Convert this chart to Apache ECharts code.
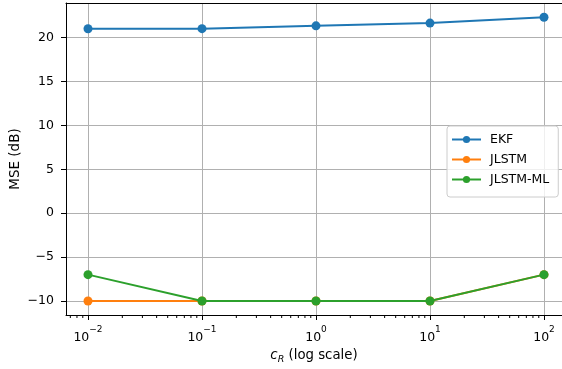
<!DOCTYPE html>
<html>
<head>
<meta charset="utf-8">
<script src="https://cdn.jsdelivr.net/npm/echarts@6/dist/echarts.min.js"></script>
<style>html,body{margin:0;padding:0;background:#fff}#c{width:562px;height:369px}</style>
</head>
<body>
<div id="c"></div>
<script>
var cR = [0.01, 0.1, 1, 10, 100];
var ekf = [21.02, 21.03, 21.35, 21.66, 22.33];
var jlstm = [-10, -10, -10, -10, -7];
var jlstmML = [-7, -10, -10, -10, -7];
var yTicks = [-10, -5, 0, 5, 10, 15, 20];
var seriesNames = ['EKF', 'JLSTM', 'JLSTM-ML'];
var colors = ['#1f77b4', '#ff7f0e', '#2ca02c'];

var FONT = 'DejaVu Sans';
var xMin = Math.pow(10, -2.193), xMax = Math.pow(10, 2.158);
var yMin = -11.6, yMax = 23.95;

// minor tick positions of the log axis (axis decoration)
var minor = [];
for (var k = -3; k <= 2; k++) {
  for (var m = 2; m <= 9; m++) {
    var v = m * Math.pow(10, k);
    if (v > xMin && v < xMax) minor.push(v);
  }
}

function pair(ys) { return cR.map(function (x, i) { return [x, ys[i]]; }); }

var chart = echarts.init(document.getElementById('c'), null, {renderer: 'canvas'});
var lineSeries = [ekf, jlstm, jlstmML].map(function (ys, i) {
  return {
    name: seriesNames[i], type: 'line', data: pair(ys),
    symbol: 'circle', symbolSize: 9, showSymbol: true,
    lineStyle: {width: 2, color: colors[i]},
    itemStyle: {color: colors[i]},
    z: 3 + i, animation: false, emphasis: {disabled: true}
  };
});

var option = {
  animation: false,
  textStyle: {fontFamily: FONT},
  grid: {left: 66, top: 3, right: 0, bottom: 54, containLabel: false, outerBoundsMode: 'none'},
  xAxis: [{
    type: 'log', logBase: 10, min: xMin, max: xMax,
    axisLine: {show: true, onZero: false, lineStyle: {color: '#000', width: 1}},
    axisTick: {show: true, length: 5, lineStyle: {color: '#000'}},
    splitLine: {show: true, lineStyle: {color: '#b0b0b0', width: 1}},
    axisLabel: {
      showMinLabel: false, showMaxLabel: false, margin: 10,
      color: '#000', fontFamily: FONT, fontSize: 12.5,
      formatter: function (v) {
        var e = Math.round(Math.log10(v));
        if (Math.abs(Math.log10(v) - e) > 1e-6) return '';
        return '{b|10}{s|' + (e < 0 ? '\u2212' + (-e) : e) + '}';
      },
      rich: {
        b: {fontSize: 12.5, fontFamily: FONT, color: '#000', verticalAlign: 'bottom', padding: [6, 0, 0, 0]},
        s: {fontSize: 9, fontFamily: FONT, color: '#000', verticalAlign: 'top'}
      }
    },
    name: '{i|c}{r|R}{t| (log scale)}',
    nameLocation: 'middle', nameGap: 34, nameMoveOverlap: false,
    nameTextStyle: {
      rich: {
        i: {fontSize: 13.3, fontStyle: 'italic', fontFamily: FONT, color: '#000', verticalAlign: 'bottom'},
        r: {fontSize: 9.5, fontStyle: 'italic', fontFamily: FONT, color: '#000', verticalAlign: 'bottom', padding: [0, 0, -3, 0]},
        t: {fontSize: 13.3, fontFamily: FONT, color: '#000', verticalAlign: 'bottom'}
      }
    }
  }, {
    type: 'log', logBase: 10, min: xMin, max: xMax, position: 'top',
    axisLine: {show: true, onZero: false, lineStyle: {color: '#000', width: 1}},
    axisTick: {show: false}, axisLabel: {show: false}, splitLine: {show: false}
  }],
  yAxis: {
    type: 'value', min: yMin, max: yMax, interval: 5,
    axisLine: {show: true, lineStyle: {color: '#000', width: 1}},
    axisLabel: {
      margin: 12,
      color: '#000', fontFamily: FONT, fontSize: 12.5,
      customValues: yTicks,
      formatter: function (v) { return v < 0 ? '\u2212' + (-v) : String(v); }
    },
    axisTick: {show: true, length: 5, lineStyle: {color: '#000'}, customValues: yTicks},
    splitLine: {show: true, lineStyle: {color: '#b0b0b0', width: 1}},
    name: 'MSE (dB)', nameLocation: 'middle', nameGap: 44, nameMoveOverlap: false,
    nameTextStyle: {fontSize: 13.5, fontFamily: FONT, color: '#000'}
  },
  legend: {
    data: seriesNames, orient: 'vertical', left: 447, top: 126,
    itemWidth: 29, itemHeight: 9, itemGap: 7,
    padding: [7, 9, 11, 4],
    backgroundColor: 'rgba(255,255,255,0.8)', borderColor: '#cccccc', borderWidth: 1, borderRadius: 3,
    textStyle: {fontSize: 12.5, fontFamily: FONT, color: '#000', padding: [0, 0, 0, 4]},
    selectedMode: false
  },
  series: lineSeries.concat([{
    type: 'custom', name: 'minor', silent: true, clip: false, z: 10,
    data: minor.map(function (v) { return [v, yMin]; }),
    renderItem: function (params, api) {
      var p = api.coord([api.value(0), api.value(1)]);
      return {type: 'line', shape: {x1: p[0], y1: p[1], x2: p[0], y2: p[1] + 3},
              style: {stroke: '#000', lineWidth: 1}};
    },
    animation: false
  }])
};
chart.setOption(option);
</script>
</body>
</html>
